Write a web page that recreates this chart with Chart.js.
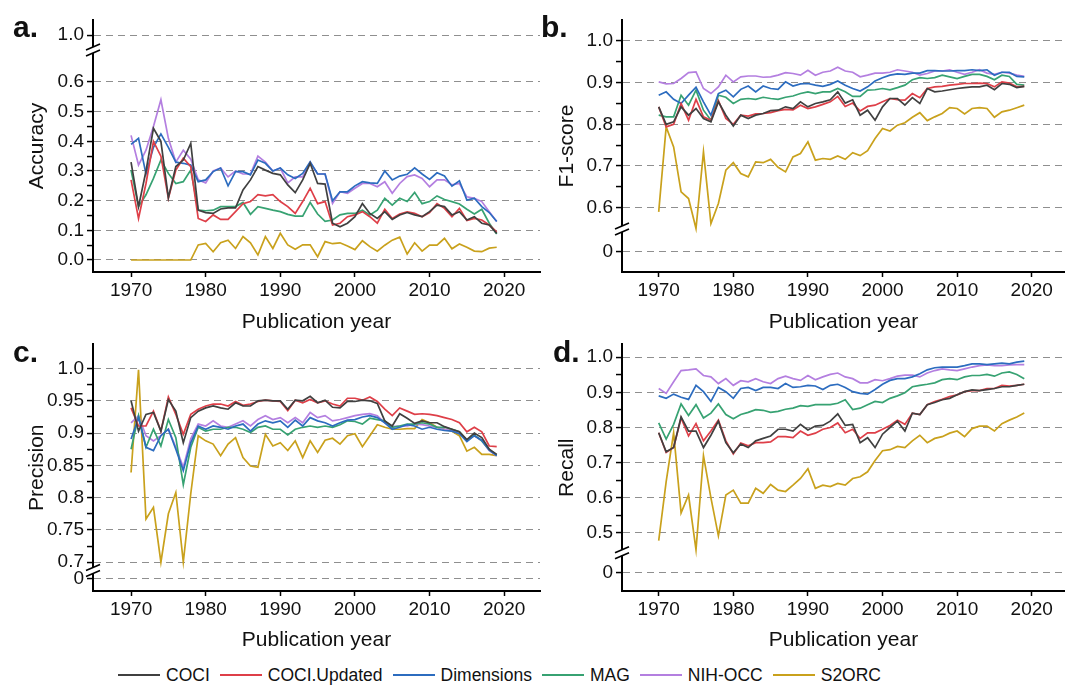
<!DOCTYPE html>
<html>
<head>
<meta charset="utf-8">
<script src="https://cdn.jsdelivr.net/npm/chart.js@4.4.1/dist/chart.umd.min.js"></script>
<style>
  body { margin: 0; width: 1065px; height: 689px; overflow: hidden; background: #fff; position: relative;
         font-family: "Liberation Sans", Arial, sans-serif; color: #111; }
  canvas { position: absolute; }
  .tag { position: absolute; font-weight: bold; font-size: 30px; line-height: 30px; }
  #legend { position: absolute; left: 118px; top: 663px; height: 24px; display: flex; align-items: center; font-size: 17.5px; }
  #legend .item { display: flex; align-items: center; margin-right: 10px; }
  #legend .swatch { width: 42px; height: 2px; margin-right: 6px; }
</style>
</head>
<body>
<canvas id="chartA" width="545" height="337" style="left:0;top:0"></canvas>
<canvas id="chartB" width="535" height="337" style="left:530px;top:0"></canvas>
<canvas id="chartC" width="545" height="325" style="left:0;top:330px"></canvas>
<canvas id="chartD" width="535" height="325" style="left:530px;top:330px"></canvas>
<div class="tag" style="left:13px;top:12px">a.</div>
<div class="tag" style="left:541px;top:12px">b.</div>
<div class="tag" style="left:13px;top:337px">c.</div>
<div class="tag" style="left:553px;top:337px">d.</div>
<div id="legend"></div>
<script>
// publication years (x categories)
var years = [1970,1971,1972,1973,1974,1975,1976,1977,1978,1979,
             1980,1981,1982,1983,1984,1985,1986,1987,1988,1989,
             1990,1991,1992,1993,1994,1995,1996,1997,1998,1999,
             2000,2001,2002,2003,2004,2005,2006,2007,2008,2009,
             2010,2011,2012,2013,2014,2015,2016,2017,2018,2019];

var seriesNames = ["COCI", "COCI.Updated", "Dimensions", "MAG", "NIH-OCC", "S2ORC"];
var seriesColors = ["#404040", "#de3f48", "#2c6cbf", "#37a272", "#b47fe0", "#c9a11c"];

var xTicks = [1970, 1980, 1990, 2000, 2010, 2020];

// a. Accuracy
var aCOCI = [0.33,0.18,0.30,0.444,0.40,0.21,0.315,0.337,0.393,0.168, 0.16,0.157,0.172,0.176,0.176,0.236,0.27,0.315,0.303,0.292, 0.287,0.253,0.227,0.27,0.326,0.258,0.256,0.124,0.112,0.124, 0.146,0.19,0.157,0.14,0.163,0.137,0.152,0.16,0.152,0.146, 0.163,0.185,0.18,0.152,0.163,0.135,0.146,0.124,0.118,0.09];
var aCOCIUpdated = [0.27,0.14,0.258,0.40,0.35,0.208,0.303,0.343,0.315,0.14, 0.13,0.152,0.137,0.137,0.163,0.19,0.197,0.22,0.216,0.22, 0.197,0.18,0.157,0.197,0.242,0.19,0.197,0.118,0.124,0.146, 0.152,0.163,0.146,0.124,0.171,0.14,0.155,0.162,0.157,0.146, 0.16,0.19,0.174,0.146,0.174,0.133,0.14,0.135,0.118,0.095];
var aDimensions = [0.39,0.41,0.29,0.38,0.425,0.38,0.33,0.326,0.32,0.264, 0.27,0.298,0.31,0.25,0.298,0.298,0.287,0.337,0.326,0.30, 0.31,0.287,0.275,0.292,0.331,0.29,0.29,0.2,0.23,0.23, 0.25,0.264,0.26,0.258,0.30,0.27,0.283,0.289,0.311,0.29, 0.272,0.294,0.283,0.249,0.267,0.202,0.208,0.18,0.16,0.13];
var aMAG = [0.303,0.18,0.22,0.275,0.337,0.292,0.258,0.264,0.303,0.168, 0.166,0.168,0.18,0.18,0.18,0.194,0.154,0.18,0.174,0.168, 0.163,0.154,0.148,0.148,0.194,0.155,0.13,0.135,0.152,0.157, 0.157,0.168,0.152,0.168,0.208,0.185,0.208,0.197,0.228,0.19, 0.197,0.216,0.204,0.197,0.189,0.171,0.155,0.171,0.124,0.088];
var aNIHOCC = [0.42,0.32,0.37,0.45,0.54,0.41,0.33,0.37,0.34,0.27, 0.26,0.30,0.31,0.28,0.30,0.29,0.29,0.35,0.33,0.30, 0.31,0.26,0.28,0.28,0.33,0.29,0.29,0.191,0.23,0.225, 0.242,0.258,0.258,0.247,0.264,0.225,0.258,0.281,0.287,0.275, 0.247,0.27,0.27,0.253,0.258,0.213,0.208,0.197,0.163,0.13];
var aS2ORC = [0,0,0,0,0,0,0,0,0,0.051, 0.056,0.028,0.058,0.067,0.039,0.079,0.058,0.017,0.079,0.039, 0.09,0.051,0.036,0.051,0.051,0.011,0.062,0.055,0.058,0.047, 0.035,0.065,0.045,0.03,0.05,0.067,0.077,0.02,0.058,0.03, 0.05,0.05,0.073,0.038,0.054,0.043,0.03,0.028,0.04,0.043];

// b. F1-score
var fCOCI = [0.842,0.8,0.806,0.842,0.822,0.838,0.814,0.806,0.854,0.822, 0.796,0.822,0.814,0.822,0.826,0.833,0.834,0.842,0.838,0.854, 0.842,0.85,0.854,0.859,0.878,0.851,0.859,0.822,0.834,0.81, 0.842,0.862,0.862,0.846,0.864,0.85,0.886,0.878,0.88,0.883, 0.886,0.888,0.89,0.89,0.894,0.883,0.898,0.896,0.888,0.891];
var fCOCIUpdated = [0.842,0.794,0.8,0.85,0.81,0.86,0.818,0.81,0.857,0.814, 0.8,0.822,0.82,0.825,0.826,0.828,0.833,0.836,0.835,0.846, 0.838,0.842,0.848,0.854,0.867,0.843,0.851,0.832,0.843,0.846, 0.854,0.862,0.859,0.858,0.874,0.864,0.886,0.89,0.891,0.894, 0.896,0.898,0.898,0.899,0.898,0.89,0.902,0.899,0.89,0.891];
var fDimensions = [0.87,0.878,0.86,0.85,0.87,0.889,0.854,0.822,0.874,0.882, 0.866,0.884,0.892,0.878,0.892,0.886,0.884,0.902,0.892,0.897, 0.898,0.894,0.891,0.896,0.904,0.894,0.886,0.88,0.89,0.904, 0.912,0.918,0.921,0.92,0.923,0.923,0.929,0.929,0.928,0.928, 0.929,0.929,0.931,0.929,0.931,0.918,0.925,0.925,0.915,0.914];
var fMAG = [0.822,0.818,0.818,0.87,0.846,0.882,0.834,0.81,0.87,0.865, 0.85,0.86,0.862,0.86,0.865,0.862,0.86,0.865,0.868,0.874, 0.878,0.874,0.878,0.878,0.886,0.878,0.867,0.867,0.882,0.883, 0.886,0.883,0.888,0.894,0.907,0.912,0.91,0.912,0.918,0.914, 0.91,0.915,0.92,0.92,0.915,0.907,0.918,0.915,0.896,0.894];
var fNIHOCC = [0.902,0.897,0.898,0.91,0.924,0.926,0.886,0.874,0.89,0.918, 0.902,0.914,0.916,0.916,0.913,0.914,0.918,0.924,0.922,0.918, 0.93,0.918,0.925,0.928,0.937,0.928,0.925,0.914,0.918,0.923, 0.923,0.925,0.931,0.928,0.925,0.918,0.922,0.928,0.928,0.931, 0.925,0.92,0.925,0.931,0.923,0.92,0.925,0.923,0.918,0.915];
var fS2ORC = [0.59,0.794,0.746,0.638,0.622,0.55,0.734,0.562,0.61,0.69, 0.708,0.682,0.674,0.71,0.708,0.716,0.697,0.686,0.722,0.73, 0.758,0.714,0.718,0.716,0.724,0.716,0.732,0.725,0.737,0.766, 0.79,0.784,0.798,0.804,0.817,0.828,0.809,0.818,0.826,0.84, 0.838,0.825,0.838,0.84,0.838,0.817,0.83,0.834,0.84,0.846];

// c. Precision
var pCOCI = [0.95,0.903,0.929,0.932,0.903,0.952,0.934,0.885,0.924,0.934, 0.939,0.942,0.939,0.937,0.947,0.942,0.942,0.95,0.951,0.95, 0.95,0.937,0.951,0.95,0.957,0.947,0.951,0.94,0.939,0.949, 0.949,0.951,0.95,0.946,0.919,0.911,0.93,0.923,0.915,0.919, 0.916,0.916,0.91,0.906,0.902,0.89,0.9,0.893,0.875,0.867];
var pCOCIUpdated = [0.939,0.911,0.911,0.934,0.903,0.956,0.929,0.898,0.929,0.937, 0.942,0.945,0.945,0.942,0.949,0.943,0.945,0.949,0.951,0.95, 0.949,0.935,0.951,0.947,0.952,0.947,0.95,0.945,0.942,0.954, 0.954,0.951,0.956,0.949,0.937,0.927,0.939,0.934,0.929,0.93, 0.929,0.927,0.924,0.921,0.916,0.902,0.909,0.902,0.88,0.879];
var pDimensions = [0.891,0.924,0.878,0.873,0.896,0.906,0.875,0.842,0.885,0.911, 0.906,0.911,0.909,0.906,0.911,0.914,0.903,0.914,0.919,0.916, 0.919,0.909,0.92,0.911,0.924,0.919,0.916,0.911,0.916,0.92, 0.921,0.925,0.927,0.924,0.916,0.906,0.909,0.913,0.911,0.906, 0.909,0.906,0.904,0.903,0.899,0.887,0.896,0.889,0.874,0.865];
var pMAG = [0.875,0.927,0.878,0.906,0.88,0.921,0.893,0.82,0.878,0.909, 0.903,0.906,0.906,0.909,0.909,0.906,0.901,0.909,0.911,0.906, 0.906,0.897,0.906,0.909,0.911,0.909,0.911,0.909,0.913,0.919, 0.918,0.914,0.923,0.921,0.919,0.909,0.911,0.914,0.914,0.916, 0.914,0.909,0.909,0.906,0.902,0.889,0.897,0.888,0.874,0.866];
var pNIHOCC = [0.916,0.927,0.896,0.888,0.896,0.906,0.878,0.847,0.891,0.914, 0.911,0.919,0.911,0.909,0.914,0.919,0.911,0.921,0.927,0.921, 0.924,0.916,0.924,0.916,0.932,0.924,0.927,0.919,0.921,0.924, 0.927,0.929,0.93,0.927,0.916,0.91,0.911,0.911,0.914,0.913, 0.911,0.909,0.906,0.904,0.901,0.889,0.896,0.888,0.873,0.865];
var pS2ORC = [0.839,0.998,0.767,0.785,0.70,0.775,0.808,0.70,0.806,0.896, 0.888,0.883,0.865,0.883,0.893,0.862,0.849,0.847,0.898,0.88, 0.885,0.873,0.888,0.862,0.888,0.87,0.889,0.892,0.883,0.896, 0.899,0.879,0.896,0.913,0.909,0.906,0.906,0.907,0.907,0.921, 0.916,0.909,0.906,0.903,0.896,0.872,0.878,0.867,0.867,0.865];

// d. Recall
var rCOCI = [0.785,0.731,0.743,0.83,0.79,0.79,0.743,0.778,0.818,0.757, 0.728,0.753,0.743,0.762,0.769,0.776,0.795,0.795,0.79,0.809, 0.793,0.804,0.806,0.818,0.839,0.806,0.809,0.757,0.771,0.743, 0.781,0.8,0.818,0.79,0.841,0.837,0.865,0.871,0.879,0.883, 0.893,0.902,0.907,0.905,0.908,0.911,0.916,0.916,0.92,0.923];
var rCOCIUpdated = [0.785,0.729,0.743,0.827,0.776,0.811,0.762,0.79,0.821,0.762, 0.725,0.756,0.748,0.757,0.757,0.759,0.774,0.774,0.771,0.79, 0.778,0.784,0.795,0.8,0.813,0.785,0.795,0.769,0.785,0.785, 0.795,0.806,0.821,0.809,0.841,0.837,0.865,0.874,0.88,0.888, 0.893,0.902,0.905,0.905,0.911,0.911,0.92,0.918,0.92,0.923];
var rDimensions = [0.89,0.883,0.895,0.886,0.88,0.92,0.902,0.874,0.914,0.902, 0.883,0.911,0.914,0.905,0.914,0.914,0.911,0.925,0.914,0.916, 0.92,0.918,0.908,0.92,0.923,0.914,0.902,0.897,0.895,0.908, 0.923,0.934,0.939,0.939,0.944,0.953,0.964,0.97,0.972,0.972, 0.972,0.976,0.981,0.981,0.979,0.981,0.983,0.981,0.986,0.989];
var rMAG = [0.813,0.767,0.809,0.867,0.834,0.865,0.827,0.841,0.867,0.837, 0.825,0.837,0.843,0.851,0.849,0.843,0.846,0.852,0.855,0.862, 0.86,0.865,0.865,0.865,0.869,0.879,0.851,0.855,0.865,0.874, 0.871,0.883,0.89,0.899,0.916,0.92,0.923,0.927,0.936,0.939, 0.936,0.944,0.948,0.948,0.951,0.946,0.955,0.958,0.951,0.939];
var rNIHOCC = [0.911,0.897,0.93,0.962,0.964,0.967,0.948,0.944,0.925,0.939, 0.92,0.933,0.93,0.939,0.93,0.925,0.939,0.946,0.939,0.934, 0.948,0.936,0.944,0.951,0.955,0.944,0.939,0.927,0.927,0.936, 0.933,0.939,0.946,0.949,0.949,0.944,0.955,0.962,0.967,0.964, 0.962,0.967,0.972,0.976,0.978,0.976,0.976,0.978,0.979,0.979];
var rS2ORC = [0.478,0.646,0.785,0.557,0.608,0.452,0.72,0.60,0.492,0.608, 0.622,0.585,0.585,0.627,0.613,0.638,0.622,0.618,0.636,0.655, 0.683,0.627,0.636,0.632,0.641,0.636,0.655,0.66,0.674,0.706, 0.734,0.737,0.746,0.743,0.762,0.778,0.757,0.769,0.774,0.784, 0.79,0.774,0.797,0.804,0.804,0.79,0.811,0.821,0.83,0.841];

// y tick positions (broken axes: the top / bottom tick sits past the break)
var aTicks = [0, 0.1, 0.2, 0.3, 0.4, 0.5, 0.6, 0.758];
var aTickLabels = ["0.0", "0.1", "0.2", "0.3", "0.4", "0.5", "0.6", "1.0"];
var fTicks = [0.4937, 0.6, 0.7, 0.8, 0.9, 1.0];
var fTickLabels = ["0", "0.6", "0.7", "0.8", "0.9", "1.0"];
var pTicks = [0.6743, 0.7, 0.75, 0.8, 0.85, 0.9, 0.95, 1.0];
var pTickLabels = ["0", "0.7", "0.75", "0.8", "0.85", "0.9", "0.95", "1.0"];
var rTicks = [0.388, 0.5, 0.6, 0.7, 0.8, 0.9, 1.0];
var rTickLabels = ["0", "0.5", "0.6", "0.7", "0.8", "0.9", "1.0"];

Chart.defaults.font.family = '"Liberation Sans", Arial, sans-serif';
Chart.defaults.color = '#111';

// white gap + double slash on the y axis
const axisBreak = {
  id: 'axisBreak',
  afterDraw(chart, args, opts) {
    const ctx = chart.ctx;
    const x = chart.chartArea.left;
    const y = chart.scales.y.getPixelForValue(opts.at);
    ctx.save();
    ctx.fillStyle = '#fff';
    ctx.fillRect(x - 3, y - 3, 6, 6);
    ctx.strokeStyle = '#000';
    ctx.lineWidth = 1.6;
    [-3, 3].forEach(d => {
      ctx.beginPath();
      ctx.moveTo(x - 7, y + d + 3);
      ctx.lineTo(x + 7, y + d - 3);
      ctx.stroke();
    });
    ctx.restore();
  }
};

const panel = (id, sets, c) => {
  const minor = [];
  for (let i = 1; i < c.ticks.length; i++) {
    const lo = c.ticks[i - 1], hi = c.ticks[i];
    if ((lo - c.brk) * (hi - c.brk) > 0) minor.push((lo + hi) / 2);
  }
  const allTicks = c.ticks.concat(minor).sort((p, q) => p - q);

  new Chart(document.getElementById(id), {
    type: 'line',
    data: {
      labels: years,
      datasets: sets.map((d, i) => ({
        label: seriesNames[i],
        data: d,
        borderColor: seriesColors[i],
        backgroundColor: seriesColors[i],
        borderWidth: 1.7,
        pointRadius: 0,
        tension: 0
      }))
    },
    options: {
      responsive: false,
      animation: false,
      layout: { padding: { top: c.top, right: c.right, left: 0, bottom: 0 } },
      plugins: {
        legend: { display: false },
        tooltip: { enabled: false },
        axisBreak: { at: c.brk }
      },
      scales: {
        x: {
          type: 'linear',
          min: c.xmin,
          max: c.xmax,
          afterBuildTicks: s => { s.ticks = xTicks.map(v => ({ value: v })); },
          afterFit: s => { s.height = c.xh; },
          ticks: { autoSkip: false, maxRotation: 0, padding: 2, font: { size: 19 }, callback: v => String(v) },
          grid: { drawOnChartArea: false, tickLength: 5, tickColor: '#000', tickWidth: 1.5 },
          border: { color: '#000', width: 2 },
          title: { display: true, text: 'Publication year', font: { size: 21 }, padding: { top: 0, bottom: 2 } }
        },
        y: {
          min: c.ymin,
          max: c.ymax,
          afterBuildTicks: s => { s.ticks = allTicks.map(v => ({ value: v })); },
          afterFit: s => { s.width = c.yw; },
          ticks: {
            autoSkip: false,
            padding: 3,
            font: { size: 19 },
            callback: v => { const k = c.ticks.indexOf(v); return k >= 0 ? c.labels[k] : ''; }
          },
          grid: {
            color: ctx => (ctx.tick && c.ticks.indexOf(ctx.tick.value) >= 0) ? '#8f8f8f' : 'rgba(0,0,0,0)',
            lineWidth: 1.1,
            tickLength: 6,
            tickColor: '#000',
            tickWidth: 1.5
          },
          border: { color: '#000', width: 2, dash: [7, 5] },
          title: { display: true, text: c.title, font: { size: 21 }, padding: { top: 25, bottom: 0 } }
        }
      }
    },
    plugins: [axisBreak]
  });
};

panel('chartA', [aCOCI, aCOCIUpdated, aDimensions, aMAG, aNIHOCC, aS2ORC], {
  title: 'Accuracy', ticks: aTicks, labels: aTickLabels, brk: 0.708,
  ymin: -0.0404, ymax: 0.809, xmin: 1964.9, xmax: 2024.8,
  top: 20, right: 5, yw: 93, xh: 65
});
panel('chartB', [fCOCI, fCOCIUpdated, fDimensions, fMAG, fNIHOCC, fS2ORC], {
  title: 'F1-score', ticks: fTicks, labels: fTickLabels, brk: 0.549,
  ymin: 0.4457, ymax: 1.0504, xmin: 1965.08, xmax: 2024.46,
  top: 20, right: 0, yw: 92, xh: 65
});
panel('chartC', [pCOCI, pCOCIUpdated, pDimensions, pMAG, pNIHOCC, pS2ORC], {
  title: 'Precision', ticks: pTicks, labels: pTickLabels, brk: 0.687,
  ymin: 0.6554, ymax: 1.0374, xmin: 1964.9, xmax: 2024.8,
  top: 13, right: 5, yw: 93, xh: 64
});
panel('chartD', [rCOCI, rCOCIUpdated, rDimensions, rMAG, rNIHOCC, rS2ORC], {
  title: 'Recall', ticks: rTicks, labels: rTickLabels, brk: 0.444,
  ymin: 0.335, ymax: 1.0364, xmin: 1965.08, xmax: 2024.46,
  top: 10, right: 0, yw: 92, xh: 64
});

// shared legend
var legend = document.getElementById('legend');
seriesNames.forEach((name, i) => {
  var item = document.createElement('div');
  item.className = 'item';
  item.innerHTML = '<span class="swatch" style="background:' + seriesColors[i] + '"></span><span>' + name + '</span>';
  legend.appendChild(item);
});
</script>
</body>
</html>
